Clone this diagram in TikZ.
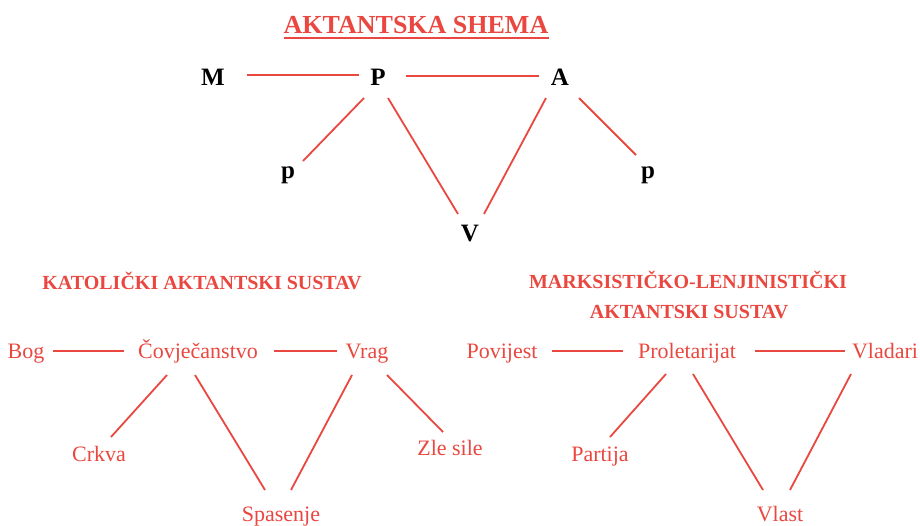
\documentclass[tikz,border=0pt]{standalone}
\usepackage{fontspec}
\setmainfont{Liberation Serif}
\definecolor{akred}{HTML}{E9473F}
\begin{document}
\begin{tikzpicture}[x=1pt,y=-1pt,
  lbl/.style={anchor=base,inner sep=0pt,text=akred,font=\fontsize{22}{24}\selectfont},
  big/.style={anchor=base,inner sep=0pt,text=black,font=\fontsize{25}{28}\selectfont\bfseries},
  head/.style={anchor=base,inner sep=0pt,text=akred,font=\fontsize{20}{22}\selectfont\bfseries},
  link/.style={draw=akred,line width=1.8pt}]
\useasboundingbox (0,0) rectangle (920,526);
% title
\node[anchor=base,inner sep=0pt,text=akred,font=\fontsize{26}{28}\selectfont\bfseries] (title) at (416,34) {AKTANTSKA SHEMA};
\draw[akred,line width=1.4pt] ([yshift=-4pt]title.base west) -- ([yshift=-4pt]title.base east);
% top scheme
\node[big] (M) at (213,86) {M};
\node[big] (P) at (378,86) {P};
\node[big] (A) at (560,86) {A};
\node[big] (pl) at (288,179) {p};
\node[big] (pr) at (648,179) {p};
\node[big] (V) at (470,242) {V};
\draw[link] ([shift={(34,-11)}]M.base) -- ([shift={(-19,-11)}]P.base);
\draw[link] ([shift={(28,-10)}]P.base) -- ([shift={(-21,-10)}]A.base);
\draw[link] ([shift={(-14,12)}]P.base) -- ([shift={(15,-18)}]pl.base);
\draw[link] ([shift={(10,12)}]P.base) -- ([shift={(-12,-28)}]V.base);
\draw[link] ([shift={(-14,12)}]A.base) -- ([shift={(14,-28)}]V.base);
\draw[link] ([shift={(19,12)}]A.base) -- ([shift={(-12,-24)}]pr.base);
% left scheme
\node[head] (kat) at (202,290) {KATOLIČKI AKTANTSKI SUSTAV};
\node[lbl] (Bog) at (26,358) {Bog};
\node[lbl] (Cov) at (198,358) {Čovječanstvo};
\node[lbl] (Vrag) at (367,358) {Vrag};
\node[lbl] (Crkva) at (99,461) {Crkva};
\node[lbl] (Spas) at (281,521) {Spasenje};
\node[lbl] (Zle) at (450,455) {Zle sile};
\draw[link] ([shift={(27,-7)}]Bog.base) -- ([shift={(-74,-7)}]Cov.base);
\draw[link] ([shift={(76,-7)}]Cov.base) -- ([shift={(-30,-7)}]Vrag.base);
\draw[link] ([shift={(-31,17)}]Cov.base) -- ([shift={(12,-24)}]Crkva.base);
\draw[link] ([shift={(-3,17)}]Cov.base) -- ([shift={(-16,-31)}]Spas.base);
\draw[link] ([shift={(-15,17)}]Vrag.base) -- ([shift={(10,-31)}]Spas.base);
\draw[link] ([shift={(20,17)}]Vrag.base) -- ([shift={(-7,-23)}]Zle.base);
% right scheme
\node[head] (mx1) at (688,289) {MARKSISTIČKO-LENJINISTIČKI};
\node[head] (mx2) at (689,318) {AKTANTSKI SUSTAV};
\node[lbl] (Pov) at (502,358) {Povijest};
\node[lbl] (Prol) at (687,358) {Proletarijat};
\node[lbl] (Vlad) at (885,358) {Vladari};
\node[lbl] (Part) at (600,461) {Partija};
\node[lbl] (Vlast) at (780,521) {Vlast};
\draw[link] ([shift={(50,-7)}]Pov.base) -- ([shift={(-64,-7)}]Prol.base);
\draw[link] ([shift={(68,-7)}]Prol.base) -- ([shift={(-40,-7)}]Vlad.base);
\draw[link] ([shift={(-21,16)}]Prol.base) -- ([shift={(10,-24)}]Part.base);
\draw[link] ([shift={(6,16)}]Prol.base) -- ([shift={(-17,-31)}]Vlast.base);
\draw[link] ([shift={(-34,16)}]Vlad.base) -- ([shift={(10,-31)}]Vlast.base);
\end{tikzpicture}
\end{document}
